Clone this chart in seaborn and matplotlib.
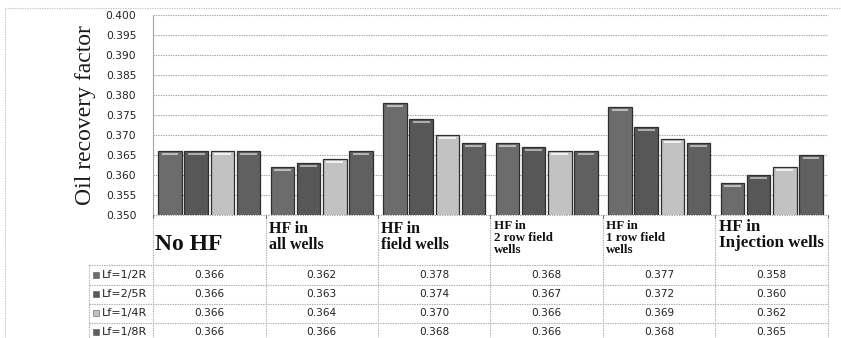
import matplotlib
matplotlib.use("Agg")
import matplotlib.pyplot as plt
from matplotlib.patches import Rectangle
from matplotlib.lines import Line2D
import seaborn as sns
import pandas as pd

# ---- data -------------------------------------------------------------
categories = ["No HF", "HF in\nall wells", "HF in\nfield wells",
              "HF in\n2 row field\nwells", "HF in\n1 row field\nwells",
              "HF in\nInjection wells"]
series = ["Lf=1/2R", "Lf=2/5R", "Lf=1/4R", "Lf=1/8R"]
lf_1_2R = [0.366, 0.362, 0.378, 0.368, 0.377, 0.358]
lf_2_5R = [0.366, 0.363, 0.374, 0.367, 0.372, 0.360]
lf_1_4R = [0.366, 0.364, 0.370, 0.366, 0.369, 0.362]
lf_1_8R = [0.366, 0.366, 0.368, 0.366, 0.368, 0.365]
y_ticks = [0.350, 0.355, 0.360, 0.365, 0.370, 0.375, 0.380, 0.385, 0.390, 0.395, 0.400]

values = [lf_1_2R, lf_2_5R, lf_1_4R, lf_1_8R]
rows = []
for s, vals in zip(series, values):
    for c, v in zip(categories, vals):
        rows.append({"scenario": c, "case": s, "recovery": v})
df = pd.DataFrame(rows)

# ---- style ------------------------------------------------------------
sns.set_theme(style="white")
plt.rcParams["font.family"] = ["DejaVu Sans"]

colors = ["#6c6c6c", "#575757", "#c2c2c2", "#606060"]
highlights = ["#bcbcbc", "#acacac", "#f0f0f0", "#b2b2b2"]
grid_col = "#a4a4a4"
dots = (0, (1.2, 1.0))

W, H = 841, 338
fig = plt.figure(figsize=(W / 100, H / 100), dpi=100)
fig.patch.set_facecolor("white")

# outer chart frame (top and left edges visible)
fig.add_artist(Line2D([5 / W, 5 / W], [0, 1 - 8 / H], color="#c4c4c4", lw=0.8, ls=dots))
fig.add_artist(Line2D([5 / W, 1], [1 - 8 / H, 1 - 8 / H], color="#c4c4c4", lw=0.8, ls=dots))

# ---- plot area --------------------------------------------------------
L, R, T, B = 153, 828, 15, 215
ax = fig.add_axes([L / W, 1 - B / H, (R - L) / W, (B - T) / H])
sns.barplot(data=df, x="scenario", y="recovery", hue="case",
            order=categories, hue_order=series, palette=colors,
            width=0.93, gap=0.1, edgecolor="#2e2e2e", linewidth=0.9,
            legend=False, ax=ax, zorder=3)

ax.set_ylim(y_ticks[0], y_ticks[-1])
ax.set_xlim(-0.5, len(categories) - 0.5)
ax.set_yticks(y_ticks)
ax.set_yticklabels([f"{t:.3f}" for t in y_ticks], fontsize=7.7, color="#222222")
ax.tick_params(axis="y", length=0, pad=12)
ax.set_xticks([])
ax.set_xlabel("")
ax.set_ylabel("")
for y in y_ticks[1:]:
    ax.axhline(y, color=grid_col, lw=0.8, ls=dots, zorder=1)
for side in ["top", "right", "bottom"]:
    ax.spines[side].set_visible(False)
ax.spines["left"].set_color(grid_col)
ax.spines["left"].set_linestyle(dots)
ax.spines["left"].set_linewidth(0.8)

# bevelled caps on each bar
n_cat = len(categories)
for i, p in enumerate(ax.patches[: n_cat * len(series)]):
    k = i // n_cat
    x, w, top = p.get_x(), p.get_width(), p.get_height()
    ax.add_patch(Rectangle((x + w * 0.14, top - 0.0009), w * 0.72, 0.0005,
                           facecolor=highlights[k], edgecolor="none", zorder=4))

fig.text(85 / W, 1 - 115 / H, "Oil recovery factor", rotation=90,
         ha="center", va="center", fontsize=17, family="Liberation Serif",
         color="#1a1a1a")

# ---- data table -------------------------------------------------------
TL, TB = 89, 341
tax = fig.add_axes([TL / W, 1 - TB / H, (R - TL) / W, (TB - B) / H])
x_left = -0.5 - (L - TL) / ((R - L) / n_cat)
tax.set_xlim(x_left, n_cat - 0.5)
tax.set_ylim(TB, B)
tax.axis("off")

line_kw = dict(color="#ababab", lw=0.8, ls=dots, clip_on=False)
row_edges = [265, 284.5, 303.5, 322.5, 341]
for j in range(n_cat + 1):
    tax.plot([j - 0.5, j - 0.5], [B, TB], **line_kw)
tax.plot([x_left, x_left], [row_edges[0], TB], **line_kw)
tax.plot([-0.5, n_cat - 0.5], [B, B], **line_kw)
for y in row_edges[:-1]:
    tax.plot([x_left, n_cat - 0.5], [y, y], **line_kw)
for j in range(n_cat + 1):
    tax.plot([j - 0.5, j - 0.5], [B, B + 3], color="#777777", lw=0.8, clip_on=False)

header_sizes = [17, 11.5, 11.5, 9.4, 9.4, 12.2]
header_tops = [None, 221, 221, 220, 220, 219]
for j, (cat, fs) in enumerate(zip(categories, header_sizes)):
    if header_tops[j] is None:
        tax.text(j - 0.48, 244, cat, ha="left", va="center", fontsize=fs,
                 family="Liberation Serif", weight="bold", color="#111111")
    else:
        tax.text(j - 0.47, header_tops[j], cat, ha="left", va="top", fontsize=fs,
                 family="Liberation Serif", weight="bold", color="#111111",
                 linespacing=1.0)

for r, (s, vals) in enumerate(zip(series, values)):
    yc = (row_edges[r] + row_edges[r + 1]) / 2
    tax.add_patch(Rectangle((x_left + 0.035, yc - 3), 0.055, 6,
                            facecolor=colors[r], edgecolor="#555555", lw=0.4,
                            clip_on=False))
    tax.text(x_left + 0.11, yc, s, ha="left", va="center", fontsize=8,
             color="#222222")
    for j, v in enumerate(vals):
        tax.text(j, yc, f"{v:.3f}", ha="center", va="center", fontsize=7.6,
                 color="#222222")

fig.savefig("out.png", dpi=100, facecolor="white")
